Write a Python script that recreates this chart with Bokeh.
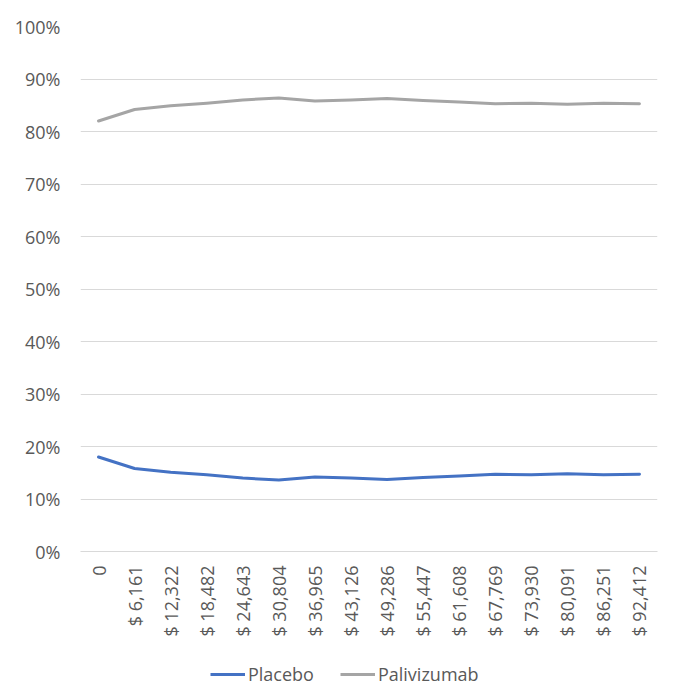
from bokeh.plotting import figure
from bokeh.models import FactorRange, Range1d, Legend, LegendItem, NumeralTickFormatter, FixedTicker
from bokeh.layouts import column
from bokeh.embed import file_html
from bokeh.resources import INLINE
from math import pi

categories = ["0", "$ 6,161", "$ 12,322", "$ 18,482", "$ 24,643", "$ 30,804", "$ 36,965",
              "$ 43,126", "$ 49,286", "$ 55,447", "$ 61,608", "$ 67,769", "$ 73,930",
              "$ 80,091", "$ 86,251", "$ 92,412"]
placebo = [0.180, 0.158, 0.151, 0.146, 0.140, 0.136, 0.142, 0.140, 0.137, 0.141, 0.144,
           0.147, 0.146, 0.148, 0.146, 0.147]
palivizumab = [0.820, 0.842, 0.849, 0.854, 0.860, 0.864, 0.858, 0.860, 0.863, 0.859, 0.856,
               0.853, 0.854, 0.852, 0.854, 0.853]
y_ticks = [0, 0.1, 0.2, 0.3, 0.4, 0.5, 0.6, 0.7, 0.8, 0.9, 1.0]
series_names = ["Placebo", "Palivizumab"]
series_colors = ["#4472C4", "#A5A5A5"]

FONT = "Open Sans"
TXT = "#595959"

p = figure(frame_width=577, frame_height=525, x_range=FactorRange(*categories, range_padding=0),
           y_range=Range1d(0, 1), output_backend="svg", toolbar_location=None,
           min_border_left=80, min_border_right=20, min_border_top=26, min_border_bottom=0)
p.outline_line_color = None

p.line(categories, placebo, line_color=series_colors[0], line_width=3, line_cap="round", line_join="round")
p.line(categories, palivizumab, line_color=series_colors[1], line_width=3, line_cap="round", line_join="round")

p.xgrid.grid_line_color = None
p.ygrid.grid_line_color = "#D9D9D9"
p.ygrid.grid_line_width = 1

p.yaxis.ticker = FixedTicker(ticks=y_ticks)
p.yaxis.formatter = NumeralTickFormatter(format="0%")
p.yaxis.axis_line_color = None
p.yaxis.major_tick_line_color = None
p.yaxis.minor_tick_line_color = None
p.yaxis.major_label_text_font = FONT
p.yaxis.major_label_text_font_size = "18px"
p.yaxis.major_label_text_color = TXT
p.yaxis.major_label_standoff = 14

p.xaxis.axis_line_color = "#D9D9D9"
p.xaxis.major_tick_line_color = None
p.xaxis.minor_tick_line_color = None
p.xaxis.major_tick_out = 0
p.xaxis.major_tick_in = 0
p.xaxis.major_label_orientation = pi / 2
p.xaxis.major_label_text_font = FONT
p.xaxis.major_label_text_font_size = "18px"
p.xaxis.major_label_text_color = TXT
p.xaxis.major_label_standoff = 14

# Legend strip below the chart (its lines lie outside its visible range)
lg = figure(width=677, height=52, x_range=FactorRange(*categories, range_padding=0),
            y_range=Range1d(5, 6), output_backend="svg", toolbar_location=None,
            min_border_left=0, min_border_right=0, min_border_top=0, min_border_bottom=0)
lg.outline_line_color = None
lg.axis.visible = False
lg.grid.visible = False
l1 = lg.line(categories, placebo, line_color=series_colors[0], line_width=3)
l2 = lg.line(categories, palivizumab, line_color=series_colors[1], line_width=3)

legend = Legend(items=[LegendItem(label=series_names[0], renderers=[l1]),
                       LegendItem(label=series_names[1], renderers=[l2])],
                orientation="horizontal", location=(130, 5),
                label_text_font=FONT, label_text_font_size="18px", label_text_color=TXT,
                glyph_width=35, border_line_color=None, background_fill_alpha=0,
                spacing=26, label_standoff=3, padding=0, margin=0)
lg.add_layout(legend, "center")

open("out.html", "w").write(file_html(column(p, lg), INLINE))
